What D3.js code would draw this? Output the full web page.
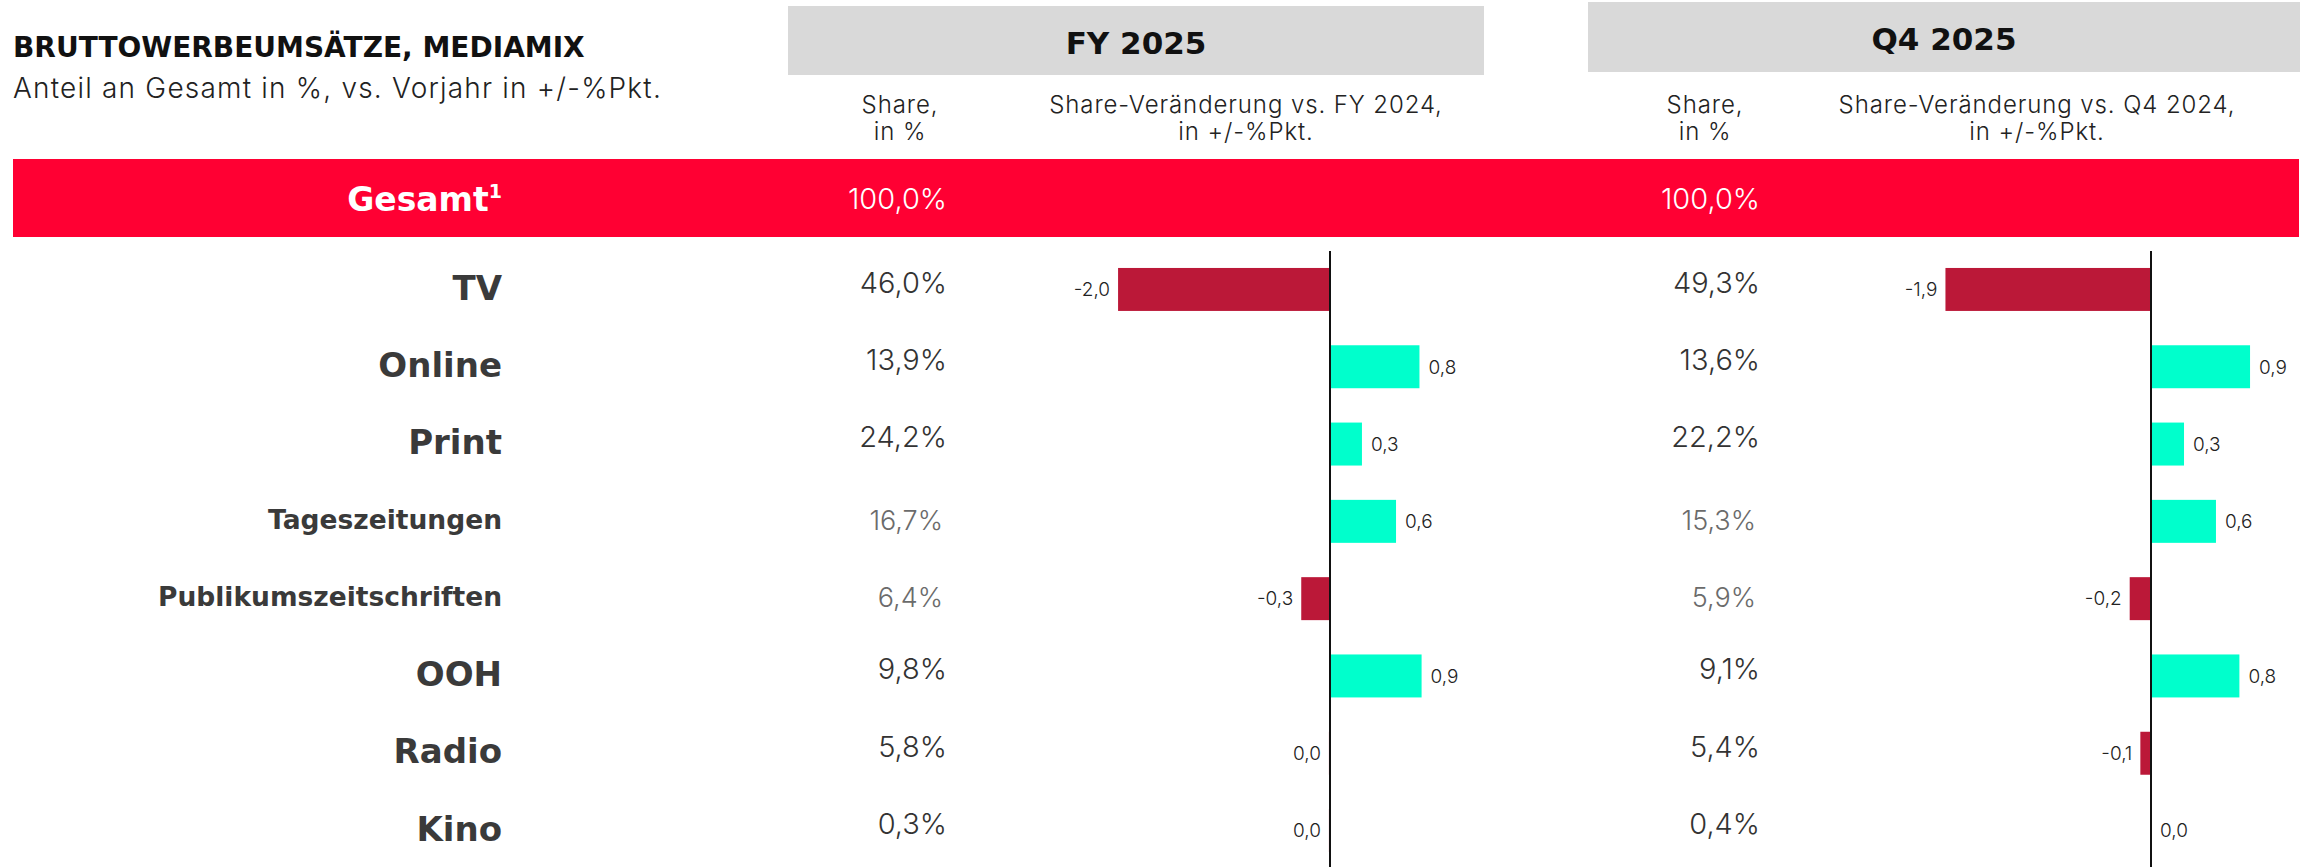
<!DOCTYPE html>
<html>
<head>
<meta charset="utf-8">
<script src="https://cdn.jsdelivr.net/npm/d3@7"></script>
<style>
  html, body { margin: 0; padding: 0; background: #fff; }
  svg { display: block; }
  text { font-family: Inter, "DejaVu Sans", sans-serif; }
  text.bold { font-family: "DejaVu Sans", Inter, sans-serif; font-weight: 700; }
</style>
</head>
<body>
<div id="chart"></div>
<script>
"use strict"

// data
var categories = ['TV', 'Online', 'Print', 'Tageszeitungen', 'Publikumszeitschriften', 'OOH', 'Radio', 'Kino'];
var printParts = ['Tageszeitungen', 'Publikumszeitschriften'];
var periods = ['FY 2025', 'Q4 2025'];
var prevPeriods = ['FY 2024', 'Q4 2024'];
var totalShare = 100.0;
var shareFY = [46.0, 13.9, 24.2, 16.7, 6.4, 9.8, 5.8, 0.3];
var changeFY = [-1.99, 0.84, 0.30, 0.62, -0.27, 0.86, -0.01, -0.01];
var shareQ4 = [49.3, 13.6, 22.2, 15.3, 5.9, 9.1, 5.4, 0.4];
var changeQ4 = [-1.93, 0.93, 0.31, 0.61, -0.2, 0.83, -0.1, 0.0];

var width = 2313,
  height = 867;

var de = d3.formatLocale({ decimal: ',', thousands: '.', grouping: [3], currency: ['', '€'], minus: '-' });
var f1 = de.format('.1f');
var fmtPct = v => f1(v) + '%';
var fmtChg = v => Math.abs(v) < 0.05 ? f1(0) : f1(v);

var svg = d3.select('#chart').append('svg')
  .attr('width', width)
  .attr('height', height);

svg.append('rect').attr('width', width).attr('height', height).attr('fill', '#fff');

// title
svg.append('text')
  .attr('class', 'bold')
  .attr('x', 13).attr('y', 57)
  .attr('font-size', 28).attr('fill', '#111')
  .text('BRUTTOWERBEUMSÄTZE, MEDIAMIX');

svg.append('text')
  .attr('x', 13).attr('y', 98)
  .attr('font-size', 28).attr('font-weight', 300).attr('fill', '#222')
  .attr('letter-spacing', 1.2)
  .text('Anteil an Gesamt in %, vs. Vorjahr in +/-%Pkt.');

// red total band
svg.append('rect')
  .attr('x', 13).attr('y', 159)
  .attr('width', 2299 - 13).attr('height', 237 - 159)
  .attr('fill', '#FF0033');

var gesamt = svg.append('text')
  .attr('class', 'bold')
  .attr('x', 502).attr('y', 211)
  .attr('text-anchor', 'end')
  .attr('font-size', 33).attr('fill', '#fff');
gesamt.append('tspan').text('Gesamt');
gesamt.append('tspan').attr('font-size', 19).attr('dy', -13).text('1');

// rows
var y = d3.scaleBand()
  .domain(categories)
  .range([250.8, 869.2])
  .paddingInner(0.444)
  .paddingOuter(0.222);

var isSub = c => printParts.indexOf(c) >= 0;
var mid = c => y(c) + y.bandwidth() / 2;

svg.append('g').selectAll('text')
  .data(categories)
  .enter().append('text')
  .attr('class', 'bold')
  .attr('x', 502)
  .attr('y', c => mid(c) - 2)
  .attr('dy', '0.36em')
  .attr('text-anchor', 'end')
  .attr('font-size', c => isSub(c) ? 26.5 : 34)
  .attr('fill', '#3a3a3a')
  .text(c => c);

var panels = [
  { title: periods[0], prev: prevPeriods[0], share: shareFY, change: changeFY,
    box: [788, 1484, 6, 75], shareRight: 947, shareHead: 900, changeHead: 1246, zero: 1330 },
  { title: periods[1], prev: prevPeriods[1], share: shareQ4, change: changeQ4,
    box: [1588, 2300, 2, 72], shareRight: 1760, shareHead: 1705, changeHead: 2037, zero: 2151 }
];

var pxPerUnit = 106.5;

panels.forEach(function (p) {
  var g = svg.append('g');

  g.append('rect')
    .attr('x', p.box[0]).attr('y', p.box[2])
    .attr('width', p.box[1] - p.box[0]).attr('height', p.box[3] - p.box[2])
    .attr('fill', '#D9D9D9');

  g.append('text')
    .attr('class', 'bold')
    .attr('x', (p.box[0] + p.box[1]) / 2)
    .attr('y', (p.box[2] + p.box[3]) / 2 + 2)
    .attr('dy', '0.36em')
    .attr('text-anchor', 'middle')
    .attr('font-size', 31).attr('fill', '#111')
    .text(p.title);

  // column heads
  [['Share,', 'in %', p.shareHead],
   ['Share-Veränderung vs. ' + p.prev + ',', 'in +/-%Pkt.', p.changeHead]].forEach(function (h) {
    var t = g.append('text')
      .attr('text-anchor', 'middle')
      .attr('font-size', 24).attr('font-weight', 300).attr('fill', '#222')
      .attr('letter-spacing', 0.9);
    t.append('tspan').attr('x', h[2]).attr('y', 113).text(h[0]);
    t.append('tspan').attr('x', h[2]).attr('y', 140).text(h[1]);
  });

  // total
  g.append('text')
    .attr('x', p.shareRight).attr('y', 199)
    .attr('dy', '0.36em')
    .attr('text-anchor', 'end')
    .attr('font-size', 29).attr('font-weight', 300).attr('fill', '#fff')
    .text(fmtPct(totalShare));

  // share column
  g.append('g').selectAll('text')
    .data(categories)
    .enter().append('text')
    .attr('x', (c) => isSub(c) ? p.shareRight - 4 : p.shareRight)
    .attr('y', c => mid(c) + (isSub(c) ? -1 : -7))
    .attr('dy', '0.36em')
    .attr('text-anchor', 'end')
    .attr('font-weight', 300)
    .attr('font-size', c => isSub(c) ? 27 : 29)
    .attr('fill', c => isSub(c) ? '#6b6b6b' : '#333')
    .text((c, i) => fmtPct(p.share[i]));

  // change bars
  var x = d3.scaleLinear()
    .domain([-2, 1])
    .range([p.zero - 2 * pxPerUnit, p.zero + pxPerUnit]);

  g.append('g').selectAll('rect')
    .data(categories)
    .enter().append('rect')
    .attr('x', (c, i) => Math.min(x(0), x(p.change[i])))
    .attr('y', c => y(c))
    .attr('width', (c, i) => Math.abs(x(p.change[i]) - x(0)))
    .attr('height', y.bandwidth())
    .attr('fill', (c, i) => p.change[i] < 0 ? '#BB1838' : '#00FFCC');

  g.append('g').selectAll('text')
    .data(categories)
    .enter().append('text')
    .attr('x', (c, i) => p.change[i] < 0 ? x(p.change[i]) - 8 : x(p.change[i]) + 9)
    .attr('y', c => mid(c))
    .attr('dy', '0.36em')
    .attr('text-anchor', (c, i) => p.change[i] < 0 ? 'end' : 'start')
    .attr('font-size', 19).attr('font-weight', 300).attr('fill', '#222')
    .text((c, i) => fmtChg(p.change[i]));

  // zero line
  g.append('line')
    .attr('x1', x(0)).attr('x2', x(0))
    .attr('y1', 251).attr('y2', height)
    .attr('stroke', '#111').attr('stroke-width', 2);
});
</script>
</body>
</html>
